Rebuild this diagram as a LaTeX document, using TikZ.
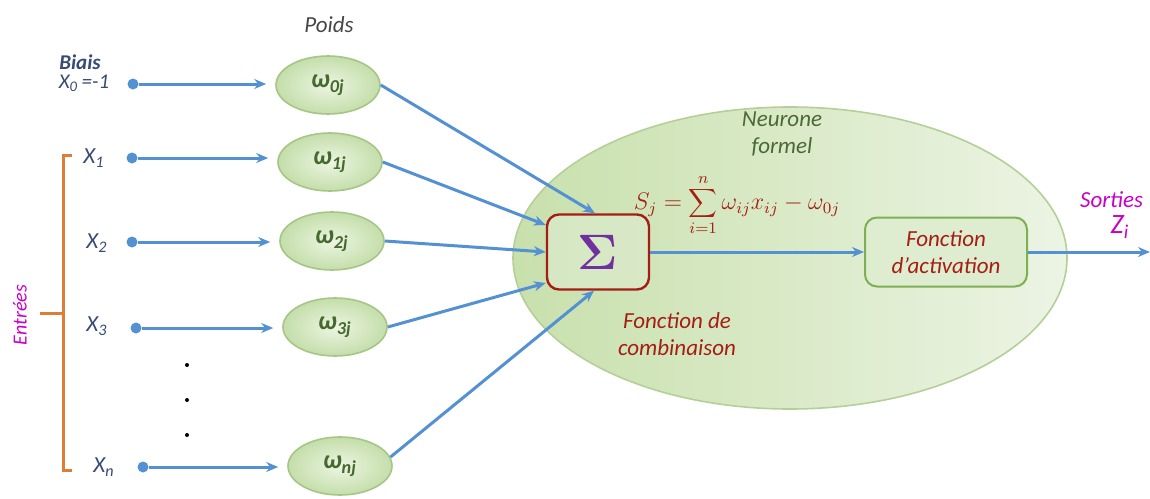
\documentclass[tikz,border=0pt]{standalone}
\usepackage[no-math]{fontspec}
\setmainfont{Carlito}
\usetikzlibrary{shapes.geometric,arrows.meta,calc}
\definecolor{arrowblue}{RGB}{84,145,210}
\definecolor{labblue}{RGB}{55,75,115}
\definecolor{wtext}{RGB}{70,105,45}
\definecolor{wborder}{RGB}{165,198,135}
\definecolor{winner}{RGB}{236,245,226}
\definecolor{wouter}{RGB}{196,222,170}
\definecolor{nleft}{RGB}{200,224,172}
\definecolor{nright}{RGB}{236,244,228}
\definecolor{nborder}{RGB}{180,208,152}
\definecolor{darkred}{RGB}{165,30,20}
\definecolor{sigpurple}{RGB}{112,48,160}
\definecolor{actborder}{RGB}{125,175,85}
\definecolor{actfill}{RGB}{222,236,208}
\definecolor{bracket}{RGB}{222,125,55}
\definecolor{magentatxt}{RGB}{200,0,200}
\definecolor{neurgreen}{RGB}{75,105,55}
\definecolor{poidsgray}{RGB}{70,70,70}
\begin{document}
\begin{tikzpicture}[x=0.5pt,y=-0.5pt,
  conn/.style={draw=arrowblue, line width=1.5pt, -{Stealth[length=6pt,width=5pt]}},
  wnode/.style={ellipse, minimum width=52pt, minimum height=29pt, inner sep=0pt,
    draw=wborder, line width=0.8pt, inner color=winner, outer color=wouter,
    text=wtext, font=\fontsize{13}{14}\selectfont\bfseries\itshape},
  dotsrc/.style={circle, fill=arrowblue, minimum size=5.5pt, inner sep=0pt},
  lab/.style={text=labblue, font=\fontsize{11.5}{13}\selectfont\itshape},
  ctext/.style={text=darkred, font=\fontsize{11.5}{13.5}\selectfont\itshape, align=center}
]
\useasboundingbox (0,0) rectangle (1150,498);

% big neuron ellipse
\node[ellipse, minimum width=277pt, minimum height=151pt, inner sep=0pt,
  left color=nleft, right color=nright, draw=nborder, line width=0.8pt] (neuron) at (790,258) {};

% titles
\node[text=poidsgray, font=\fontsize{11.5}{13}\selectfont\itshape] (poids) at (329,25) {Poids};
\node[text=neurgreen, font=\fontsize{11.5}{13.5}\selectfont\itshape, align=center, inner sep=1pt] (nf) at (782,134) {Neurone\\formel};

% bias
\node[lab, font=\fontsize{10.5}{12}\selectfont\bfseries\itshape] (biais) at (80,62) {Biais};
\node[lab, font=\fontsize{10.5}{12}\selectfont\itshape] (x0) at (84,83) {X\textsubscript{0}\,=-1};

% input labels
\node[lab] (lx1) at (94,158) {X\textsubscript{1}};
\node[lab] (lx2) at (97,243) {X\textsubscript{2}};
\node[lab] (lx3) at (97,326) {X\textsubscript{3}};
\node[lab] (lxn) at (104,467) {X\textsubscript{n}};

% bracket
\draw[bracket, line width=1.5pt] (72,155) -- (63,155) -- (63,470) -- (72,470);
\draw[bracket, line width=1.5pt] (63,313) -- (40,313);
\node[text=magentatxt, font=\fontsize{10}{12}\selectfont\itshape, rotate=90] (entrees) at (20,315) {Entrées};

% dots
\node[circle, fill=black, minimum size=2pt, inner sep=0pt] (v1) at (187,365) {};
\node[circle, fill=black, minimum size=2pt, inner sep=0pt] (v2) at (187,400) {};
\node[circle, fill=black, minimum size=2pt, inner sep=0pt] (v3) at (187,435) {};

% weights
\node[wnode] (w0) at (328,85) {ω\textsubscript{0j}};
\node[wnode] (w1) at (330,162) {ω\textsubscript{1j}};
\node[wnode] (w2) at (332,241) {ω\textsubscript{2j}};
\node[wnode] (w3) at (335,327) {ω\textsubscript{3j}};
\node[wnode] (wn) at (340,466) {ω\textsubscript{nj}};

% input dots
\node[dotsrc] (d0) at (133,84) {};
\node[dotsrc] (d1) at (132,158) {};
\node[dotsrc] (d2) at (132,242) {};
\node[dotsrc] (d3) at (136,328) {};
\node[dotsrc] (dn) at (143,467) {};

\draw[conn, shorten >=4.5pt] (d0) -- (d0 -| w0.west);
\draw[conn, shorten >=4.5pt] (d1) -- (d1 -| w1.west);
\draw[conn, shorten >=4.5pt] (d2) -- (d2 -| w2.west);
\draw[conn, shorten >=4.5pt] (d3) -- (d3 -| w3.west);
\draw[conn, shorten >=4.5pt] (dn) -- (dn -| wn.west);

% sigma box
\node[draw=darkred, line width=1.2pt, rounded corners=6pt, fill=actfill, fill opacity=0.6, text opacity=1,
  minimum width=51pt, minimum height=37.5pt, inner sep=0pt, text=sigpurple,
  font=\fontsize{24}{26}\selectfont] (sig) at (598,252) {$\mathbf{\Sigma}$};

% activation box
\node[draw=actborder, line width=1pt, rounded corners=6pt, fill=actfill,
  minimum width=81pt, minimum height=34.5pt, inner sep=0pt, ctext] (act) at (946,252) {Fonction\\d’activation};

% formula
\node[text=darkred, font=\fontsize{12}{14}\selectfont, inner sep=0.5pt] (formula) at (737,205)
  {$S_j=\displaystyle\sum_{i=1}^{n}\omega_{ij}x_{ij}-\omega_{0j}$};

\node[ctext] (comb) at (677,334) {Fonction de\\combinaison};

% weight -> sigma
\draw[conn] (w0.east) -- ($(sig.north)+(-3,0)$);
\draw[conn] (w1.east) -- ($(sig.west)+(0,-27)$);
\draw[conn] (w2.east) -- (sig.west);
\draw[conn] (w3.east) -- ($(sig.west)+(0,31)$);
\draw[conn] (wn.10) -- ($(sig.south)+(-4,0)$);

% sigma -> activation -> out
\coordinate (out) at (1150,252);
\draw[conn] (sig.east) -- (act.west);
\draw[conn] (act.east) -- (out);

% output label
\node[text=magentatxt, font=\fontsize{11.5}{13}\selectfont\itshape, anchor=east] (sorties) at (1150,200) {Sorties};
\node[text=magentatxt, font=\fontsize{14}{16}\selectfont\itshape] (zi) at (1120,227) {Z\textsubscript{i}};
\end{tikzpicture}
\end{document}
